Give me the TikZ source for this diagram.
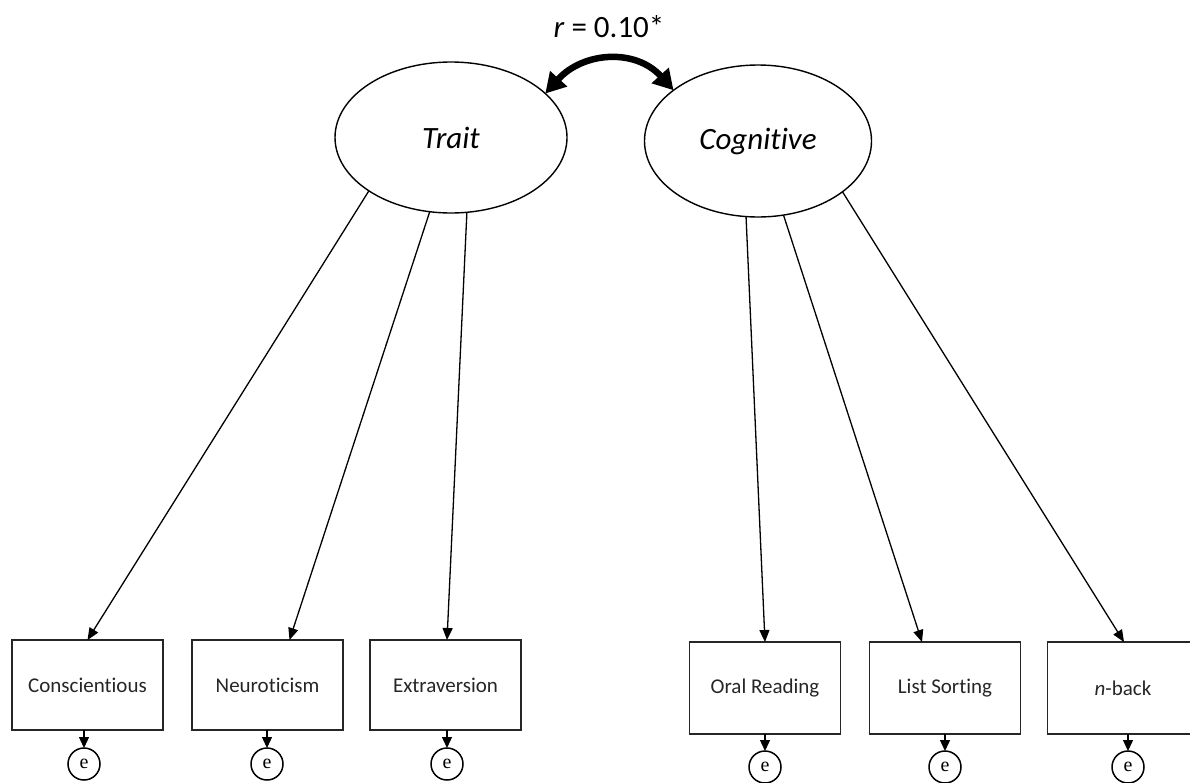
\documentclass[tikz,border=0pt]{standalone}
\usepackage{fontspec}
\setmainfont{Carlito}[RawFeature=-liga]
\newfontfamily\efont{Liberation Serif}
\usetikzlibrary{arrows.meta,shapes.geometric}
\tikzset{
  latent/.style={draw, ellipse, line width=1.4pt, inner sep=0pt, outer sep=0pt,
    font=\fontsize{31}{36}\selectfont\itshape},
  obsbox/.style={draw=black!85, rectangle, line width=1.8pt, minimum width=151pt,
    inner sep=0pt, outer sep=0pt, font=\fontsize{21}{24}\selectfont, text=black!85},
  errc/.style={draw, circle, line width=1.5pt, minimum size=32pt, inner sep=0pt,
    outer sep=0pt, font=\efont\fontsize{20}{22}\selectfont},
  load/.style={line width=1.3pt, -{Triangle[length=12pt,width=10pt]}},
  errarrow/.style={line width=1.3pt, -{Triangle[length=11pt,width=10pt]}},
  corr/.style={line width=6.5pt, {Triangle[length=20pt,width=22pt]}-{Triangle[length=20pt,width=22pt]}}
}
\begin{document}
\begin{tikzpicture}[x=1pt,y=-1pt]
\useasboundingbox (0,0) rectangle (1190,782);
% latent factors
\node[latent, minimum width=232pt, minimum height=151pt] (trait) at (451,137.5) {Trait};
\node[latent, minimum width=227pt, minimum height=152pt] (cog) at (758,141) {Cognitive};
% correlation
\node[font=\fontsize{31}{36}\selectfont] (rlab) at (609,27) {\textit{r} = 0.10*};
\draw[corr] (trait.25.8) .. controls +(38,-42) and +(-38,-42) .. (cog.149);
% indicators
\node[obsbox, minimum height=90pt] (con) at (87.5,685) {Conscientious};
\node[obsbox, minimum height=90pt] (neu) at (267.5,685) {Neuroticism};
\node[obsbox, minimum height=90pt] (ext) at (445.5,685) {Extraversion};
\node[obsbox, minimum height=92pt] (ora) at (765,688) {Oral Reading};
\node[obsbox, minimum height=92pt] (lis) at (945,688) {List Sorting};
\node[obsbox, minimum height=92pt] (nba) at (1123,688) {\textit{n}-back};
% loadings
\draw[load] (trait.213.6) -- (con.north);
\draw[load] (trait.254.5) -- ([xshift=22pt]neu.north);
\draw[load] (trait.282.7) -- ([xshift=1.5pt]ext.north);
\draw[load] (cog.261) -- (ora.north);
\draw[load] (cog.289) -- ([xshift=-23pt]lis.north);
\draw[load] (cog.329) -- ([xshift=1pt]nba.north);
% errors
\node[errc] (e1) at (84,764) {e};
\node[errc] (e2) at (267,764) {e};
\node[errc] (e3) at (447,764) {e};
\node[errc] (e4) at (765,767) {e};
\node[errc] (e5) at (945,767) {e};
\node[errc] (e6) at (1128,767) {e};
\draw[errarrow] (e1 |- con.south) -- (e1.north);
\draw[errarrow] (e2 |- neu.south) -- (e2.north);
\draw[errarrow] (e3 |- ext.south) -- (e3.north);
\draw[errarrow] (e4 |- ora.south) -- (e4.north);
\draw[errarrow] (e5 |- lis.south) -- (e5.north);
\draw[errarrow] (e6 |- nba.south) -- (e6.north);
\end{tikzpicture}
\end{document}
